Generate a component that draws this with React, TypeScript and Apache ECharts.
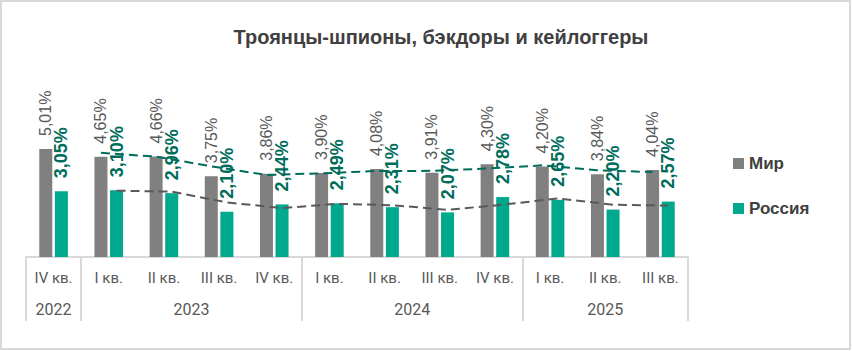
import React, { useEffect, useRef } from "react";
import * as echarts from "echarts";

const quarters = ["IV кв.", "I кв.", "II кв.", "III кв.", "IV кв.", "I кв.", "II кв.", "III кв.", "IV кв.", "I кв.", "II кв.", "III кв."];
const years = ["2022", "2023", "2024", "2025"];
const yearSpans = [1, 4, 4, 3];
const world = [5.01, 4.65, 4.66, 3.75, 3.86, 3.9, 4.08, 3.91, 4.3, 4.2, 3.84, 4.04];
const russia = [3.05, 3.1, 2.96, 2.1, 2.44, 2.49, 2.31, 2.07, 2.78, 2.65, 2.2, 2.57];

const W = 852;
const H = 351;
const GRID_LEFT = 26;
const GRID_RIGHT = 164;
const BAR_W = 13;
const BAR_GAP = 0.2;

const fmt = (v: number) => v.toFixed(2).replace(".", ",") + "%";

function movingAvg(arr: number[], shift: number): number[][] {
  const out: number[][] = [];
  for (let i = 1; i < arr.length; i++) {
    out.push([i + 0.5 + shift, (arr[i - 1] + arr[i]) / 2]);
  }
  return out;
}

export default function App() {
  const ref = useRef<HTMLDivElement>(null);
  useEffect(() => {
    document.body.style.margin = "0";
    if (!ref.current) return;
    const chart = echarts.init(ref.current, undefined, { renderer: "svg" });

    const catW = (W - GRID_LEFT - GRID_RIGHT) / quarters.length;
    const off = ((BAR_W + BAR_W * BAR_GAP) / 2) / catW;

    const boundaries: number[] = [0];
    const centers: number[] = [];
    let acc = 0;
    yearSpans.forEach((s) => {
      centers.push(acc + s / 2);
      acc += s;
      boundaries.push(acc);
    });

    const labelFont = "Liberation Sans, Arial, sans-serif";
    const axisFont = "Roboto, Liberation Sans, sans-serif";

    chart.setOption({
      animation: false,
      backgroundColor: "#ffffff",
      title: {
        text: "Троянцы-шпионы, бэкдоры и кейлоггеры",
        left: 436,
        textAlign: "center",
        top: 22,
        textStyle: { fontFamily: labelFont, fontSize: 20, fontWeight: "bold", color: "#404040" },
      },
      graphic: [
        {
          type: "rect",
          shape: { x: 1, y: 1, width: W - 3, height: H - 3 },
          style: { fill: "none", stroke: "#d9d9d9", lineWidth: 2 },
          silent: true,
        },
      ],
      legend: {
        data: ["Мир", "Россия"],
        orient: "vertical",
        left: 728,
        top: 150,
        icon: "rect",
        itemWidth: 11,
        itemHeight: 11,
        itemGap: 28,
        textStyle: { fontFamily: labelFont, fontSize: 17, fontWeight: "bold", color: "#404040" },
      },
      grid: { left: GRID_LEFT, right: GRID_RIGHT, top: 84.5, bottom: 94, containLabel: false },
      xAxis: [
        {
          type: "category",
          data: quarters,
          axisLine: { show: true, lineStyle: { color: "#d9d9d9", width: 2 } },
          axisTick: { show: false },
          axisLabel: { margin: 13, fontFamily: axisFont, fontSize: 15, color: "#595959", interval: 0 },
        },
        {
          type: "value",
          min: 0,
          max: quarters.length,
          position: "bottom",
          axisLine: { show: false },
          splitLine: { show: false },
          axisTick: {
            show: true,
            customValues: boundaries,
            length: 64,
            lineStyle: { color: "#d9d9d9", width: 2 },
          },
          axisLabel: {
            customValues: centers,
            margin: 44,
            fontFamily: axisFont,
            fontSize: 16,
            color: "#595959",
            formatter: (v: number) => {
              const idx = centers.findIndex((c) => Math.abs(c - v) < 1e-6);
              return idx >= 0 ? years[idx] : "";
            },
          },
        },
      ],
      yAxis: { type: "value", min: 0, max: 8, show: false },
      series: [
        {
          name: "Мир",
          type: "bar",
          data: world,
          barWidth: BAR_W,
          barGap: BAR_GAP * 100 + "%",
          itemStyle: { color: "#808080" },
          label: {
            show: true,
            position: "top",
            rotate: 90,
            align: "left",
            verticalAlign: "middle",
            distance: 13,
            formatter: (p: any) => fmt(p.value),
            fontFamily: labelFont,
            fontSize: 16,
            color: "#595959",
          },
        },
        {
          name: "Россия",
          type: "bar",
          data: russia,
          barWidth: BAR_W,
          itemStyle: { color: "#00a88e" },
          label: {
            show: true,
            position: "top",
            rotate: 90,
            align: "left",
            verticalAlign: "middle",
            distance: 13,
            formatter: (p: any) => fmt(p.value),
            fontFamily: labelFont,
            fontSize: 18,
            fontWeight: "bold",
            color: "#006d5b",
          },
        },
        {
          name: "Мир тренд",
          type: "line",
          xAxisIndex: 1,
          data: movingAvg(world, -off),
          symbol: "none",
          z: 10,
          lineStyle: { color: "#006d5b", width: 2, type: [9, 5] },
        },
        {
          name: "Россия тренд",
          type: "line",
          xAxisIndex: 1,
          data: movingAvg(russia, off),
          symbol: "none",
          z: 10,
          lineStyle: { color: "#595959", width: 2, type: [9, 5] },
        },
      ],
    });
    return () => chart.dispose();
  }, []);
  return <div ref={ref} style={{ width: W, height: H }} />;
}
